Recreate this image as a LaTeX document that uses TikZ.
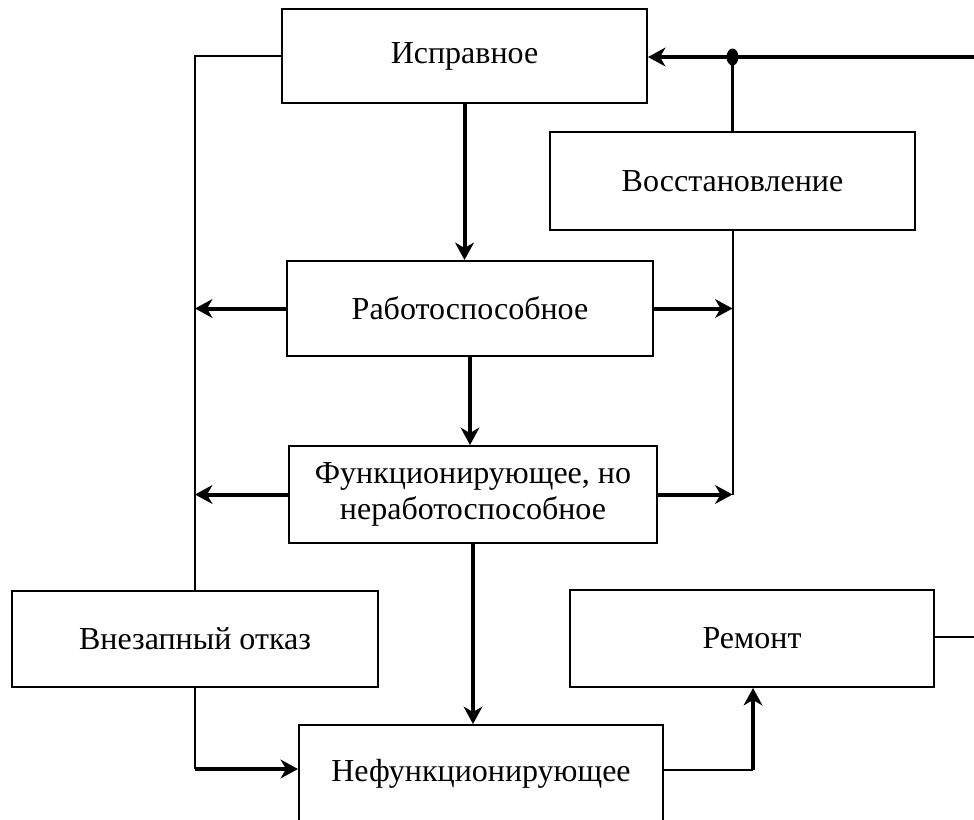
\documentclass[tikz,border=0pt]{standalone}
\usepackage{fontspec}
\setmainfont{Liberation Serif}
\usetikzlibrary{arrows.meta}
\begin{document}
\begin{tikzpicture}[x=0.75pt,y=-0.75pt,
  statebox/.style 2 args={draw,line width=1.5pt,inner sep=0pt,align=center,
    minimum width={#1*0.75pt},minimum height={#2*0.75pt},
    font=\fontsize{24}{26.5}\selectfont},
  thin/.style={line width=1.5pt},
  bold/.style={line width=3pt},
  tip/.style={-{Stealth[length=13pt,width=14pt,inset=4pt]}}]
\useasboundingbox (0,0) rectangle (974,819);

% states
\node[statebox={365}{94}] (isp) at (464.5,56) {Исправное};
\node[statebox={365}{98}] (vos) at (732.5,181) {Восстановление};
\node[statebox={366}{95}] (rab) at (470,308.5) {Работоспособное};
\node[statebox={368}{97},yshift=0pt] (fun) at (473,494.5) {Функционирующее, но\\неработоспособное};
\node[statebox={364}{100},text height=17pt,text depth=8pt] (nef) at (481,775) {Нефункционирующее};
\node[statebox={366}{96}] (vnz) at (195,639) {Внезапный отказ};
\node[statebox={364}{97}] (rem) at (752,638.5) {Ремонт};

% loose ends at the right border
\coordinate (rtop) at (974,57);
\coordinate (rrem) at (974,637);
\coordinate (jn) at (vos.north |- rtop);
\coordinate (vk) at (195,769);
\coordinate (nk) at (753,770);

% return line into the serviceable state
\draw[bold,tip] (rtop) -- (isp.east |- rtop);
\draw[line width=2.5pt] (vos.north) -- (jn);
\fill (jn) ellipse [x radius=6,y radius=8.5];
\draw[thin] (rem.east |- rrem) -- (rrem);

% main chain downwards
\draw[bold,tip] (isp.south) -- (isp.south |- rab.north);
\draw[bold,tip] (rab.south) -- (rab.south |- fun.north);
\draw[bold,tip] (fun.south) -- (fun.south |- nef.north);

% left bus: sudden failure
\draw[thin] (isp.west) -| (vnz.north);
\draw[bold,tip] (rab.west) -- (rab.west -| vnz.north);
\draw[bold,tip] (fun.west) -- (fun.west -| vnz.north);
\draw[thin] (vnz.south) -- (vk);
\draw[bold,tip] (vk) -- (vk -| nef.west);

% right bus: restoration
\draw[thin] (vos.south) -- (vos.south |- fun.east);
\draw[bold,tip] (rab.east) -- (rab.east -| vos.south);
\draw[bold,tip] (fun.east) -- (fun.east -| vos.south);

% repair
\draw[thin] (nk -| nef.east) -- (nk);
\draw[bold,tip] (nk) -- (nk |- rem.south);
\end{tikzpicture}
\end{document}
